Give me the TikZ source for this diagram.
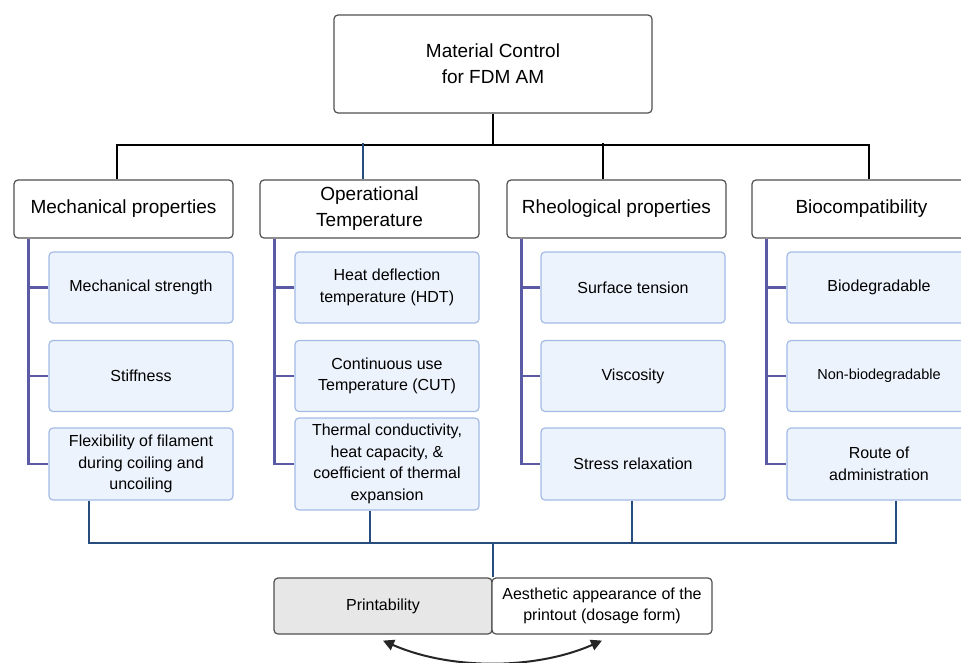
\documentclass[tikz,border=0pt]{standalone}
\usepackage{fontspec}
\setmainfont{Liberation Sans}
\usetikzlibrary{arrows.meta,calc}
\definecolor{subfill}{HTML}{EDF3FC}
\definecolor{subdraw}{HTML}{A3BBE6}
\definecolor{colline}{HTML}{5A5AA5}
\definecolor{navy}{HTML}{264D7E}
\definecolor{boxdraw}{HTML}{505050}
\definecolor{printfill}{HTML}{E7E7E7}
\begin{document}
\begin{tikzpicture}[x=1pt,y=-1pt,
  topbox/.style={draw=boxdraw,line width=1.2pt,rounded corners=4pt,fill=white,
    minimum width=318pt,minimum height=98pt,inner sep=0pt,align=center,
    font=\fontsize{19}{26}\selectfont},
  catbox/.style={draw=boxdraw,line width=1.2pt,rounded corners=4pt,fill=white,
    minimum width=219pt,minimum height=58pt,inner sep=0pt,align=center,
    font=\fontsize{19}{26}\selectfont},
  subbox/.style={draw=subdraw,line width=1.2pt,rounded corners=4pt,fill=subfill,
    minimum width=184pt,minimum height=71pt,inner sep=0pt,align=center,
    font=\fontsize{16}{21.5}\selectfont},
  botbox/.style={draw=boxdraw,line width=1.2pt,rounded corners=4pt,
    minimum height=56pt,inner sep=0pt,align=center,
    font=\fontsize{16}{21.5}\selectfont},
  topline/.style={draw=black,line width=2pt},
  colline/.style={draw=colline,line width=2.4pt},
  navyline/.style={draw=navy,line width=2pt},
  arrowline/.style={draw=black!85,line width=2pt}
]
\clip (0,0) rectangle (961,662);
\fill[white] (0,0) rectangle (961,662);

% top
\node[topbox] (top) at (493,64) {Material Control\\for FDM AM};

% categories
\node[catbox] (mech) at (123.5,209) {Mechanical properties};
\node[catbox] (oper) at (369.5,209) {Operational\\Temperature};
\node[catbox] (rheo) at (616.5,209) {Rheological properties};
\node[catbox] (bio)  at (861.5,209) {Biocompatibility};

% sub-boxes
\node[subbox] (m1) at (141,287.5) {Mechanical strength};
\node[subbox] (m2) at (141,376) {Stiffness};
\node[subbox,minimum height=72pt] (m3) at (141,464) {Flexibility of filament\\during coiling and\\uncoiling};

\node[subbox] (o1) at (387,287.5) {Heat deflection\\temperature (HDT)};
\node[subbox] (o2) at (387,376) {Continuous use\\Temperature (CUT)};
\node[subbox,minimum height=92pt] (o3) at (387,464) {Thermal conductivity,\\heat capacity, \&\\coefficient of thermal\\expansion};

\node[subbox] (r1) at (633,287.5) {Surface tension};
\node[subbox] (r2) at (633,376) {Viscosity};
\node[subbox,minimum height=72pt] (r3) at (633,464) {Stress relaxation};

\node[subbox] (b1) at (879,287.5) {Biodegradable};
\node[subbox,font=\fontsize{14.5}{20}\selectfont] (b2) at (879,376) {Non-biodegradable};
\node[subbox,minimum height=72pt] (b3) at (879,464) {Route of\\administration};

% bottom boxes
\node[botbox,fill=printfill,minimum width=218pt] (print) at (383,606) {Printability};
\node[botbox,fill=white,minimum width=220pt] (aesth) at (602,606) {Aesthetic appearance of the\\printout (dosage form)};

% top connectors
\draw[topline] (top.south) -- ++(0,31) coordinate (hub);
\draw[topline] ([xshift=-6.5pt]mech.north) |- (hub) -| ([xshift=7.5pt]bio.north);
\draw[navyline] ([xshift=-6.5pt]oper.north) -- +(0,-36);
\draw[topline] ([xshift=-13.5pt]rheo.north) -- +(0,-36);

% column lines
\foreach \c/\a/\b/\d in {mech/m1/m2/m3, oper/o1/o2/o3, rheo/r1/r2/r3, bio/b1/b2/b3}{
  \coordinate (cx) at ([xshift=15pt]\c.south west);
  \draw[colline] (cx) |- (\d.west);
  \draw[colline] (\a.west) -- (\a.west -| cx);
  \draw[colline] (\b.west) -- (\b.west -| cx);
}

% bottom connectors
\coordinate (bus) at (0,543);
\coordinate (md) at ([xshift=-52pt]m3.south);
\coordinate (od) at ([xshift=-17pt]o3.south);
\coordinate (rd) at ([xshift=-1pt]r3.south);
\coordinate (bd) at ([xshift=17pt]b3.south);
\draw[navyline] (md) -- (md |- bus) -- (bd |- bus) -- (bd);
\draw[navyline] (od) -- (od |- bus);
\draw[navyline] (rd) -- (rd |- bus);
\draw[navyline] (print.north east) -- (print.north east |- bus);

% double arrow
\draw[arrowline,{Triangle[length=11pt,width=11pt]}-{Triangle[length=11pt,width=11pt]}]
  ([yshift=-6pt]print.south) .. controls (450,670) and (535,670) .. ([yshift=-6pt]aesth.south);
\end{tikzpicture}
\end{document}
